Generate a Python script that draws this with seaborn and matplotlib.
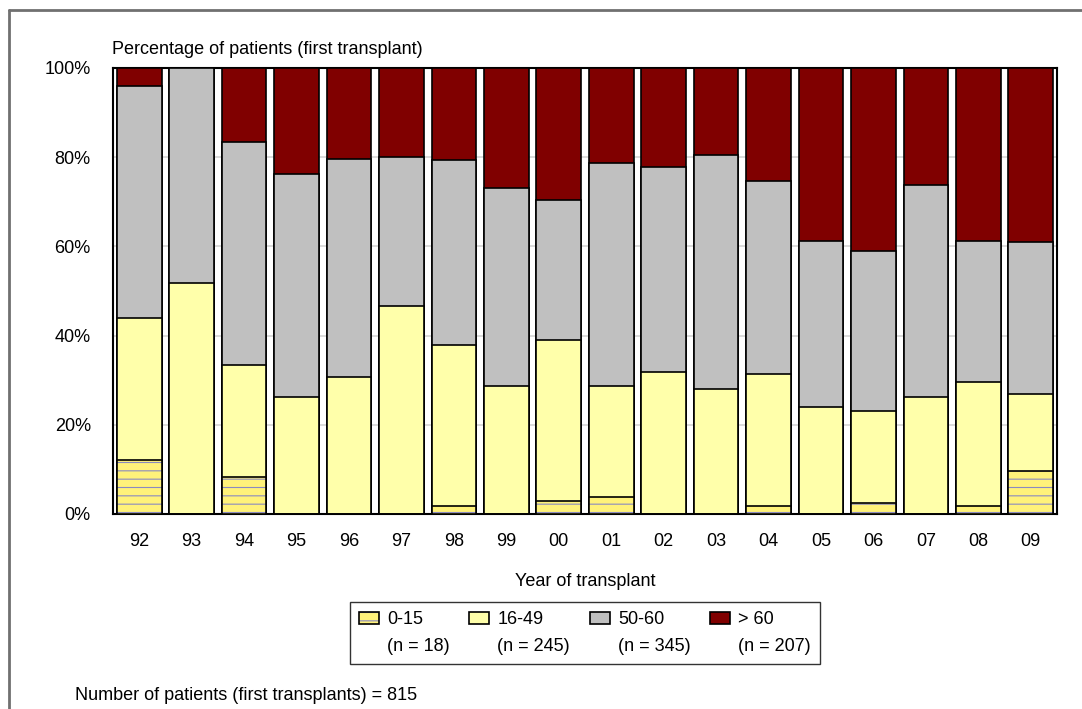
import matplotlib
matplotlib.use("Agg")
import matplotlib.pyplot as plt
import matplotlib.patches as mpatches
from matplotlib.lines import Line2D
import seaborn as sns
import numpy as np
import pandas as pd

# ---- data (percent of first transplants per year) ----
years = ['92', '93', '94', '95', '96', '97', '98', '99', '00',
         '01', '02', '03', '04', '05', '06', '07', '08', '09']
age_0_15 = [12.0, 0.0, 8.3, 0.0, 0.0, 0.0, 1.8, 0.0, 3.0,
            3.8, 0.0, 0.0, 1.9, 0.0, 2.5, 0.0, 1.8, 9.7]
age_16_49 = [32.0, 51.8, 25.0, 26.2, 30.7, 46.6, 36.1, 28.6, 36.1,
             25.0, 31.9, 28.1, 29.5, 24.0, 20.5, 26.2, 27.8, 17.1]
age_50_60 = [52.0, 48.2, 50.1, 50.1, 48.8, 33.4, 41.4, 44.6, 31.2,
             50.0, 46.0, 52.4, 43.2, 37.1, 35.9, 47.5, 31.5, 34.1]
age_over_60 = [4.0, 0.0, 16.6, 23.7, 20.5, 20.0, 20.7, 26.8, 29.7,
               21.2, 22.1, 19.5, 25.4, 38.9, 41.1, 26.3, 38.9, 39.1]

group_labels = ['0-15', '16-49', '50-60', '> 60']
group_n = [18, 245, 345, 207]
group_colors = ['#FFF27A', '#FFFFAA', '#C0C0C0', '#800000']
hatch_col = '#8a8ac0'
n_total = 815

df = pd.DataFrame({'year': years, 'g1': age_0_15, 'g2': age_16_49,
                   'g3': age_50_60, 'g4': age_over_60})
# cumulative tops, drawn from the tallest down so the bars overlap into a stack
df['top1'] = df['g1']
df['top2'] = df['top1'] + df['g2']
df['top3'] = df['top2'] + df['g3']
df['top4'] = df['top3'] + df['g4']

# ----------- Plot -----------
sns.set_theme(style='white')
plt.rcParams['font.family'] = ['Liberation Sans', 'DejaVu Sans']
plt.rcParams['text.color'] = 'black'
plt.rcParams['hatch.linewidth'] = 0.8

fig = plt.figure(figsize=(10.82, 7.09), dpi=100)
ax = fig.add_axes([113 / 1082, 1 - 514 / 709, 944 / 1082, 446 / 709])

for col, colr in zip(['top4', 'top3', 'top2'], group_colors[::-1][:3]):
    sns.barplot(data=df, x='year', y=col, color=colr, saturation=1,
                width=0.85, edgecolor='black', linewidth=1.2, ax=ax, zorder=3)
# 0-15: hatched fill (hatch takes the edge colour), then a black outline on top
sns.barplot(data=df, x='year', y='top1', color=group_colors[0], saturation=1,
            width=0.85, edgecolor=hatch_col, linewidth=0, hatch='--',
            ax=ax, zorder=3)
sns.barplot(data=df, x='year', y='top1', fill=False, saturation=1,
            width=0.85, edgecolor='black', linewidth=1.2, ax=ax, zorder=4)

ax.set_ylim(0, 100)
ax.set_xlim(-0.5, len(years) - 0.5)
ax.set_yticks([0, 20, 40, 60, 80, 100])
ax.set_yticklabels(['0%', '20%', '40%', '60%', '80%', '100%'])
ax.yaxis.grid(True, color='#d4d4d4', linewidth=1.2, zorder=0)
ax.set_axisbelow(True)
ax.tick_params(axis='y', length=0, pad=16, labelsize=13, colors='black')
ax.tick_params(axis='x', length=0, pad=14, labelsize=13, colors='black')
ax.set_xlabel('')
ax.set_ylabel('')
for s in ax.spines.values():
    s.set_color('black')
    s.set_linewidth(1.5)

fig.text(112 / 1082, 1 - 49 / 709, 'Percentage of patients (first transplant)',
         ha='left', va='center', fontsize=13)
fig.text(585 / 1082, 1 - 582 / 709, 'Year of transplant',
         ha='center', va='center', fontsize=13)
fig.text(75 / 1082, 1 - 695 / 709,
         'Number of patients (first transplants) = {0}'.format(n_total),
         ha='left', va='center', fontsize=13)

# legend: first row patches + group, second row the counts
handles, labels = [], []
for i, (lab, n, c) in enumerate(zip(group_labels, group_n, group_colors)):
    if i == 0:
        h = mpatches.Patch(facecolor=c, edgecolor=hatch_col, linewidth=0,
                           hatch='--')
        h = (h, mpatches.Patch(fill=False, edgecolor='black', linewidth=1.2))
    else:
        h = mpatches.Patch(facecolor=c, edgecolor='black', linewidth=1.2)
    handles.append(h)
    labels.append(lab)
    handles.append(mpatches.Patch(visible=False))
    labels.append('(n = {0})'.format(n))
leg = fig.legend(handles, labels, ncol=4, loc='upper center',
                 bbox_to_anchor=(585 / 1082, 1 - 602 / 709), fontsize=13,
                 frameon=True, fancybox=False, edgecolor='black',
                 handlelength=1.1, handleheight=0.65, handletextpad=0.45,
                 columnspacing=1.1, labelspacing=0.55, borderpad=0.5,
                 borderaxespad=0)
leg.get_frame().set_linewidth(1.0)

# outer frame (top and left edge only)
fig.add_artist(Line2D([9 / 1082, 1], [1 - 10 / 709, 1 - 10 / 709],
                      color='#707070', linewidth=2, transform=fig.transFigure))
fig.add_artist(Line2D([9 / 1082, 9 / 1082], [0, 1 - 10 / 709],
                      color='#707070', linewidth=2, transform=fig.transFigure))

fig.savefig('out.png', dpi=100)
